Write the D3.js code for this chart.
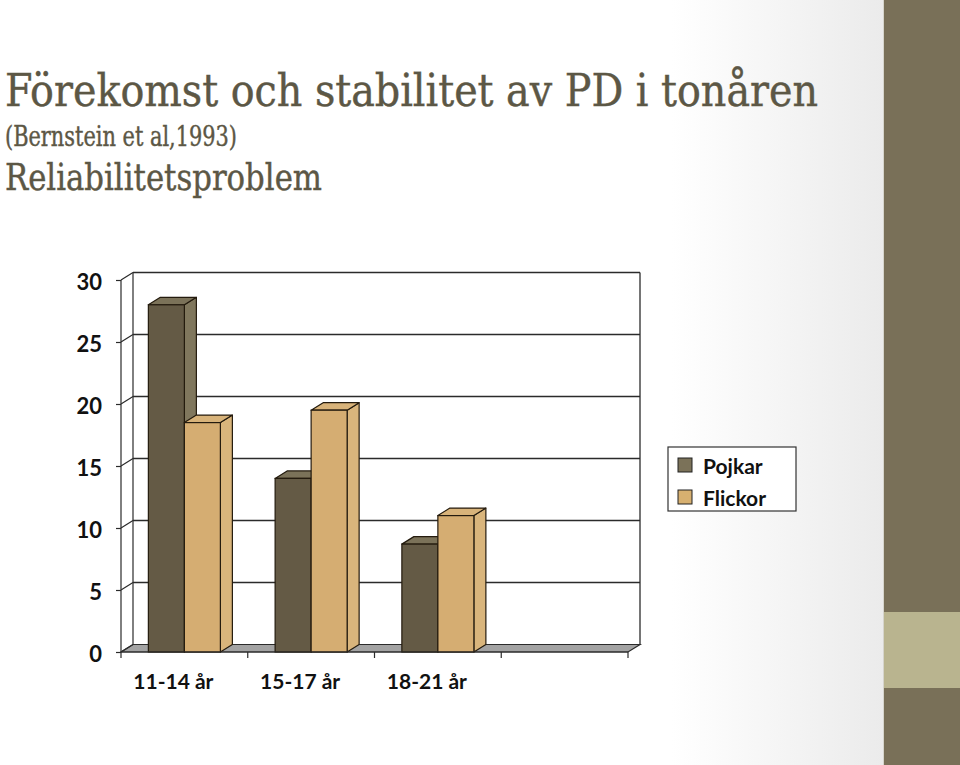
<!DOCTYPE html>
<html>
<head>
<meta charset="utf-8">
<script src="https://cdn.jsdelivr.net/npm/d3@7"></script>
<style>
  html, body { margin: 0; padding: 0; background: #fff; }
  svg { display: block; }
</style>
</head>
<body>
<svg id="chart" width="960" height="765"></svg>
<script>
// ---- data ----
const titleLines = ["Förekomst och stabilitet av PD i tonåren", "(Bernstein et al,1993)", "Reliabilitetsproblem"];
const categories = ["11-14 år", "15-17 år", "18-21 år", ""];
const seriesNames = ["Pojkar", "Flickor"];
const pojkar = [28, 14, 8.7];
const flickor = [18.5, 19.5, 11];
const yTicks = [0, 5, 10, 15, 20, 25, 30];

// ---- layout ----
const svg = d3.select("#chart");
const W = 960, H = 765;

const defs = svg.append("defs");
const grad = defs.append("linearGradient").attr("id", "bgGrad")
  .attr("x1", "0").attr("x2", "1").attr("y1", "0").attr("y2", "0");
grad.append("stop").attr("offset", "0").attr("stop-color", "#ffffff");
grad.append("stop").attr("offset", "0.76").attr("stop-color", "#ffffff");
grad.append("stop").attr("offset", "1").attr("stop-color", "#ebebeb");
svg.append("rect").attr("x", 0).attr("y", 0).attr("width", 884).attr("height", H).attr("fill", "url(#bgGrad)");

// right side band
svg.append("rect").attr("x", 884).attr("y", 0).attr("width", 76).attr("height", H).attr("fill", "#797058");
svg.append("rect").attr("x", 884).attr("y", 612).attr("width", 76).attr("height", 76).attr("fill", "#b9b48f");
svg.append("line").attr("x1", 883.5).attr("x2", 883.5).attr("y1", 0).attr("y2", H).attr("stroke", "#d6d4cc").attr("stroke-width", 1);

// titles
const titleColor = "#5c5745";
const titleSpecs = [
  { y: 106, size: 45, len: 813 },
  { y: 146, size: 27, len: 232 },
  { y: 190, size: 38, len: 317 }
];
titleLines.forEach((t, i) => {
  svg.append("text")
    .attr("x", 5).attr("y", titleSpecs[i].y)
    .attr("font-family", "'DejaVu Serif Condensed', 'DejaVu Serif', serif")
    .attr("font-stretch", "condensed")
    .attr("font-size", titleSpecs[i].size)
    .attr("fill", titleColor)
    .attr("stroke", titleColor)
    .attr("stroke-width", 0.4)
    .attr("textLength", titleSpecs[i].len)
    .attr("lengthAdjust", "spacingAndGlyphs")
    .text(t);
});

// chart scales
const x0 = 121, x1 = 628, yBase = 652, yTop = 280;
const dx = 12, dy = -7.5;
const x = d3.scaleBand().domain(categories).range([x0, x1]).paddingInner(0).paddingOuter(0);
const xs = d3.scaleBand().domain(seriesNames).range([0, x.bandwidth()]).paddingInner(0).paddingOuter(0.76);
const y = d3.scaleLinear().domain([0, 30]).range([yBase, yTop]);

const lineColor = "#2b2b2b";
const g = svg.append("g");

// floor
g.append("polygon")
  .attr("points", [[x0, yBase], [x1, yBase], [x1 + dx, yBase + dy], [x0 + dx, yBase + dy]].map(p => p.join(",")).join(" "))
  .attr("fill", "#a3a3a3").attr("stroke", lineColor).attr("stroke-width", 1.2);

// back wall gridlines and side wall lines
yTicks.filter(v => v > 0).forEach(v => {
  g.append("line")
    .attr("x1", x0 + dx).attr("x2", x1 + dx)
    .attr("y1", y(v) + dy).attr("y2", y(v) + dy)
    .attr("stroke", lineColor).attr("stroke-width", 1.3);
});
yTicks.forEach(v => {
  g.append("line")
    .attr("x1", x0).attr("x2", x0 + dx)
    .attr("y1", y(v)).attr("y2", y(v) + dy)
    .attr("stroke", lineColor).attr("stroke-width", 1.2);
});
// back wall vertical edges
g.append("line").attr("x1", x0 + dx).attr("x2", x0 + dx).attr("y1", y(30) + dy).attr("y2", yBase + dy)
  .attr("stroke", lineColor).attr("stroke-width", 1.2);
g.append("line").attr("x1", x1 + dx).attr("x2", x1 + dx).attr("y1", y(30) + dy).attr("y2", yBase + dy)
  .attr("stroke", lineColor).attr("stroke-width", 1.3);

// bars
const colors = {
  Pojkar: { front: "#645a45", side: "#80775d", top: "#7b7259" },
  Flickor: { front: "#d5ad72", side: "#d9b57c", top: "#d8b37a" }
};
const barData = [];
categories.slice(0, 3).forEach((c, i) => {
  barData.push({ cat: c, s: "Pojkar", v: pojkar[i] });
  barData.push({ cat: c, s: "Flickor", v: flickor[i] });
});
const stroke = "#241b0e";
barData.forEach(d => {
  const bx = x(d.cat) + xs(d.s);
  const bw = xs.bandwidth();
  const ty = y(d.v);
  const col = colors[d.s];
  const bg = g.append("g");
  bg.append("polygon")
    .attr("points", [[bx + bw, ty], [bx + bw + dx, ty + dy], [bx + bw + dx, yBase + dy], [bx + bw, yBase]].map(p => p.join(",")).join(" "))
    .attr("fill", col.side).attr("stroke", stroke).attr("stroke-width", 1.2).attr("stroke-linejoin", "round");
  bg.append("polygon")
    .attr("points", [[bx, ty], [bx + dx, ty + dy], [bx + bw + dx, ty + dy], [bx + bw, ty]].map(p => p.join(",")).join(" "))
    .attr("fill", col.top).attr("stroke", stroke).attr("stroke-width", 1.2).attr("stroke-linejoin", "round");
  bg.append("rect")
    .attr("x", bx).attr("y", ty).attr("width", bw).attr("height", yBase - ty)
    .attr("fill", col.front).attr("stroke", stroke).attr("stroke-width", 1.2);
});

// front axis line
g.append("line").attr("x1", x0).attr("x2", x0).attr("y1", yTop).attr("y2", yBase)
  .attr("stroke", lineColor).attr("stroke-width", 1.2);

// y axis
const yAxis = d3.axisLeft(y).tickValues(yTicks).tickSize(5).tickPadding(14).tickFormat(d3.format("d"));
const yG = svg.append("g").attr("transform", `translate(${x0},0)`).call(yAxis);
yG.select(".domain").remove();
yG.selectAll(".tick line").attr("stroke", lineColor).attr("stroke-width", 1.2);
yG.selectAll(".tick text")
  .attr("font-family", "Lato, 'Open Sans', sans-serif")
  .attr("font-weight", "bold")
  .attr("font-size", 22)
  .attr("fill", "#111")
  .attr("dy", "0.42em");

// x axis
const xG = svg.append("g");
xG.append("line").attr("x1", x0).attr("x2", x1).attr("y1", yBase).attr("y2", yBase)
  .attr("stroke", lineColor).attr("stroke-width", 1.2);
const tickPos = categories.map(c => x(c)).concat([x1]);
xG.selectAll(".xt").data(tickPos).enter().append("line")
  .attr("x1", d => d).attr("x2", d => d).attr("y1", yBase).attr("y2", yBase + 6)
  .attr("stroke", lineColor).attr("stroke-width", 1.2);
xG.selectAll(".xl").data(categories.filter(c => c !== "")).enter().append("text")
  .attr("x", d => x(d) + x.bandwidth() / 2 - 11)
  .attr("y", 689)
  .attr("text-anchor", "middle")
  .attr("font-family", "Lato, 'Open Sans', sans-serif")
  .attr("font-weight", "bold")
  .attr("font-size", 21)
  .attr("fill", "#111")
  .text(d => d);

// legend
const lg = svg.append("g").attr("transform", "translate(668,447)");
lg.append("rect").attr("x", 0).attr("y", 0).attr("width", 128).attr("height", 64)
  .attr("fill", "#fff").attr("stroke", "#333").attr("stroke-width", 1.2);
const legendFill = { Pojkar: "#7b7259", Flickor: "#d7b070" };
seriesNames.forEach((s, i) => {
  lg.append("rect").attr("x", 10).attr("y", 11 + i * 32).attr("width", 14).attr("height", 14)
    .attr("fill", legendFill[s]).attr("stroke", "#222").attr("stroke-width", 1);
  lg.append("text").attr("x", 35).attr("y", 27 + i * 32)
    .attr("font-family", "Lato, 'Open Sans', sans-serif")
    .attr("font-weight", "bold")
    .attr("font-size", 21)
    .attr("fill", "#111")
    .text(s);
});
</script>
</body>
</html>
